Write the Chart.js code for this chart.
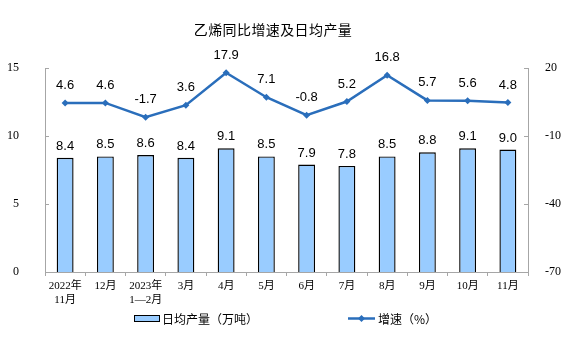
<!DOCTYPE html>
<html><head><meta charset="utf-8">
<script src="https://cdn.jsdelivr.net/npm/chart.js@4/dist/chart.umd.min.js"></script>
<style>html,body{margin:0;padding:0;background:#fff;}#wrap{width:576px;height:357px;position:relative;}</style>
</head><body><div id="wrap"><canvas id="c" width="576" height="357"></canvas></div>
<script>
const categories = [["2022年","11月"],"12月",["2023年","1—2月"],"3月","4月","5月","6月","7月","8月","9月","10月","11月"];
const dailyOutput = [8.4,8.5,8.6,8.4,9.1,8.5,7.9,7.8,8.5,8.8,9.1,9.0];
const growthRate = [4.6,4.6,-1.7,3.6,17.9,7.1,-0.8,5.2,16.8,5.7,5.6,4.8];
const leftTicks = [0,5,10,15];
const rightTicks = [-70,-40,-10,20];
const titleText = "乙烯同比增速及日均产量";
const barLegend = "日均产量（万吨）";
const lineLegend = "增速（%）";

const BAR_FILL = "#99ccff", LINE_COL = "#2a6ebb", AXIS_COL = "#a6a6a6";
const LABEL_FONT = "13px 'Liberation Sans', Arial, sans-serif";

const overlay = {
  id: "overlay",
  afterDatasetsDraw(chart) {
    const ctx = chart.ctx;
    ctx.save();
    ctx.fillStyle = "#000";
    ctx.font = LABEL_FONT;
    ctx.textAlign = "center";
    ctx.textBaseline = "bottom";
    chart.getDatasetMeta(1).data.forEach((el, i) => {
      ctx.fillText(dailyOutput[i].toFixed(1), el.x, el.y - 5);
    });
    chart.getDatasetMeta(0).data.forEach((el, i) => {
      ctx.fillText(growthRate[i].toFixed(1), el.x, el.y - 11);
    });
    const yl = chart.scales.y, yr = chart.scales.y1;
    ctx.strokeStyle = AXIS_COL; ctx.lineWidth = 1;
    leftTicks.forEach(v => { const py = Math.round(yl.getPixelForValue(v)) + 0.5; ctx.beginPath(); ctx.moveTo(yl.right, py); ctx.lineTo(yl.right + 4, py); ctx.stroke(); });
    rightTicks.forEach(v => { const py = Math.round(yr.getPixelForValue(v)) + 0.5; ctx.beginPath(); ctx.moveTo(yr.left - 4, py); ctx.lineTo(yr.left, py); ctx.stroke(); });
    ctx.restore();
  },
  afterDraw(chart) {
    const ctx = chart.ctx;
    ctx.save();
    ctx.fillStyle = "#000";
    ctx.font = "14px 'Noto Sans CJK SC', sans-serif";
    ctx.letterSpacing = "0.4px";
    ctx.textAlign = "center";
    ctx.textBaseline = "middle";
    ctx.fillText(titleText, 273, 30);
    ctx.letterSpacing = "0px";
    ctx.font = "12px 'Noto Sans CJK SC', sans-serif";
    ctx.textAlign = "left";
    ctx.fillStyle = BAR_FILL; ctx.strokeStyle = "#000"; ctx.lineWidth = 1;
    ctx.fillRect(134.5, 315.5, 25, 6); ctx.strokeRect(134.5, 315.5, 25, 6);
    ctx.fillStyle = "#000";
    ctx.fillText(barLegend, 162, 319);
    ctx.strokeStyle = LINE_COL; ctx.lineWidth = 2.5;
    ctx.beginPath(); ctx.moveTo(348, 318.5); ctx.lineTo(375, 318.5); ctx.stroke();
    ctx.fillStyle = LINE_COL;
    ctx.beginPath(); ctx.moveTo(361.5, 315); ctx.lineTo(365, 318.5); ctx.lineTo(361.5, 322); ctx.lineTo(358, 318.5); ctx.closePath(); ctx.fill();
    ctx.fillStyle = "#000";
    ctx.fillText(lineLegend, 378, 319);
    ctx.restore();
  }
};

new Chart(document.getElementById("c"), {
  data: {
    labels: categories,
    datasets: [
      { type: "line", label: lineLegend, data: growthRate, yAxisID: "y1", borderColor: LINE_COL, backgroundColor: LINE_COL,
        borderWidth: 2.5, pointStyle: "rectRot", pointRadius: 3.5, pointBackgroundColor: LINE_COL, pointBorderWidth: 0, tension: 0, order: 0 },
      { type: "bar", label: barLegend, data: dailyOutput, yAxisID: "y", backgroundColor: BAR_FILL, borderColor: "#000",
        borderWidth: 1.4, categoryPercentage: 1, barPercentage: 0.42, order: 1 }
    ]
  },
  options: {
    responsive: false, animation: false, devicePixelRatio: 1,
    layout: { padding: { left: 0, right: 0, top: 68, bottom: 50 } },
    plugins: { legend: { display: false }, title: { display: false }, tooltip: { enabled: false } },
    scales: {
      x: {
        offset: true,
        grid: { display: true, drawOnChartArea: false, offset: true, tickLength: 4, color: AXIS_COL },
        border: { color: AXIS_COL },
        ticks: { color: "#000", font: { size: 11, family: "'Liberation Serif', 'Noto Sans CJK SC', serif" }, padding: 4, maxRotation: 0, autoSkip: false },
        afterFit(s) { s.height = 35; }
      },
      y: {
        position: "left", min: 0, max: 15,
        afterBuildTicks(s) { s.ticks = leftTicks.map(v => ({ value: v })); },
        grid: { display: false },
        border: { color: AXIS_COL },
        ticks: { color: "#000", font: { size: 12, family: "'Liberation Serif', serif" }, padding: 18 },
        afterFit(s) { s.width = 45; }
      },
      y1: {
        position: "right", min: -70, max: 20,
        afterBuildTicks(s) { s.ticks = rightTicks.map(v => ({ value: v })); },
        grid: { display: false },
        border: { color: AXIS_COL },
        ticks: { color: "#000", font: { size: 12, family: "'Liberation Serif', serif" }, padding: 9 },
        afterFit(s) { s.width = 48; }
      }
    }
  },
  plugins: [overlay]
});
</script></body></html>
